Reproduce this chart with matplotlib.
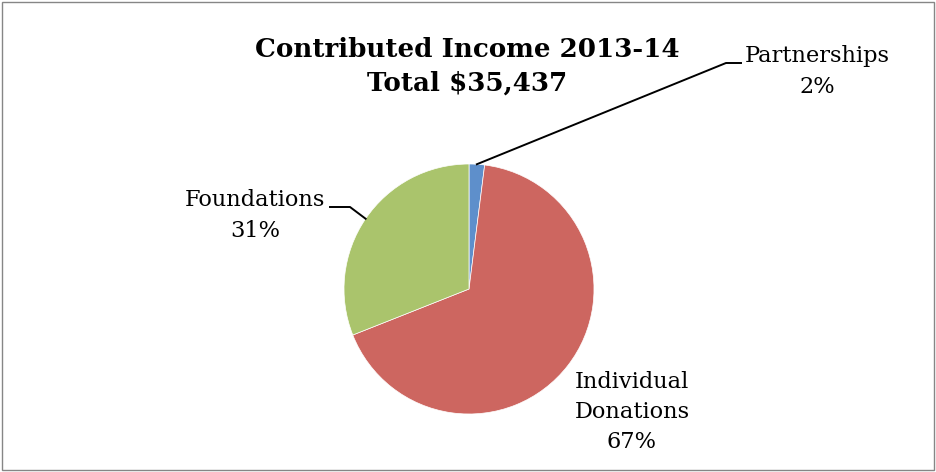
import numpy as np
import matplotlib.pyplot as plt
from matplotlib.patches import Rectangle
from matplotlib.lines import Line2D

plt.rcParams['font.family'] = 'DejaVu Serif'

labels = ['Partnerships', 'Individual\nDonations', 'Foundations']
shares = [2, 67, 31]
colors = ['#5E8FCB', '#CD6660', '#AAC46C']
title = 'Contributed Income 2013-14\nTotal $35,437'

W, H = 936, 472
fig = plt.figure(figsize=(W / 100, H / 100), dpi=100)

def fx(px):
    return px / W

def fy(py):
    return 1 - py / H

# pie: centre (469, 289), radius 125 px
cx, cy, r = 469, 289, 125
ax = fig.add_axes([fx(cx - r), fy(cy + r), 2 * r / W, 2 * r / H])
wedges, _ = ax.pie(shares, colors=colors, startangle=90, counterclock=False,
                   radius=1, wedgeprops=dict(linewidth=0.5, edgecolor='white'))
ax.set_xlim(-1, 1)
ax.set_ylim(-1, 1)
ax.set_aspect('auto')
ax.axis('off')

fig.text(fx(467), fy(66.5), title, ha='center', va='center', fontsize=18.8,
         fontweight='bold', linespacing=1.45)

# label positions (px) and leader elbows
lab_pos = [(817, 71.5), (632, 412), (255, 215.5)]
elbows = [[(726, 63), (741, 63)], None, [(350, 207), (330, 207)]]

for w, lab, share, pos, elb in zip(wedges, labels, shares, lab_pos, elbows):
    fig.text(fx(pos[0]), fy(pos[1]), f'{lab}\n{share}%', ha='center', va='center',
             fontsize=16.2, linespacing=1.5)
    if elb is None:
        continue
    ang = np.deg2rad((w.theta1 + w.theta2) / 2)
    ex, ey = fig.transFigure.inverted().transform(
        ax.transData.transform((np.cos(ang), np.sin(ang))))
    xs = [ex] + [fx(p[0]) for p in elb]
    ys = [ey] + [fy(p[1]) for p in elb]
    fig.add_artist(Line2D(xs, ys, color='black', linewidth=1.4,
                          transform=fig.transFigure))

fig.add_artist(Rectangle((fx(1.5), fy(469.5)), fx(932), 1 - fy(468),
                         transform=fig.transFigure, fill=False,
                         edgecolor='#868686', linewidth=1))

fig.savefig('out.png', dpi=100)
